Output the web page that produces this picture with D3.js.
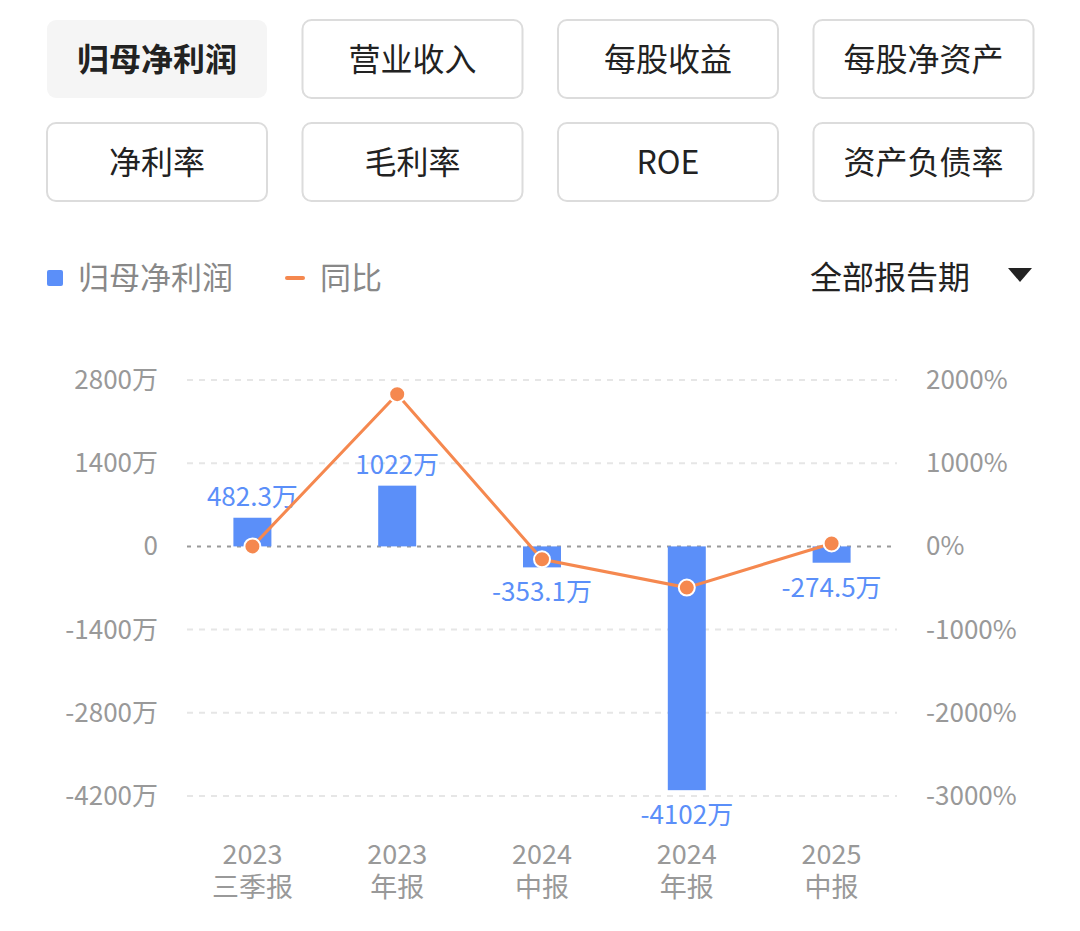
<!DOCTYPE html><html><head><meta charset="utf-8">
<script src="https://cdn.jsdelivr.net/npm/d3@7"></script>
<style>body{margin:0;background:#fff;font-family:"Noto Sans CJK SC","Noto Sans",sans-serif}</style></head><body>
<svg id="c" width="1080" height="931"></svg>
<script>
const tabs=["归母净利润","营业收入","每股收益","每股净资产","净利率","毛利率","ROE","资产负债率"];
const years=["2023","2023","2024","2024","2025"];
const periods=["三季报","年报","中报","年报","中报"];
const profit=[482.3,1022,-353.1,-4102,-274.5];
const profitLabels=["482.3万","1022万","-353.1万","-4102万","-274.5万"];
const yoy=[0,1830,-155,-495,35];
const leftTicks=[2800,1400,0,-1400,-2800,-4200];
const rightTicks=[2000,1000,0,-1000,-2000,-3000];

const svg=d3.select("#c");
const F='"Noto Sans CJK SC",sans-serif';
tabs.forEach((t,i)=>{
  const col=i%4,row=Math.floor(i/4);
  const x=47+col*255.5,y=20+row*103;
  svg.append("rect").attr("x",x).attr("y",y).attr("width",220).attr("height",78).attr("rx",9)
    .attr("fill",i==0?"#f5f5f5":"#fff").attr("stroke",i==0?"none":"#dcdcdc").attr("stroke-width",2);
  svg.append("text").attr("x",x+110).attr("y",y+51).attr("text-anchor","middle").attr("font-size",32)
    .attr("font-family",F).attr("font-weight",i==0?"bold":"normal").attr("fill","#222").text(t);
});
svg.append("rect").attr("x",47).attr("y",270).attr("width",16).attr("height",16).attr("rx",2).attr("fill","#5b8ff9");
svg.append("text").attr("x",78).attr("y",289).attr("font-size",31).attr("font-family",F).attr("fill","#888").text("归母净利润");
svg.append("line").attr("x1",287).attr("x2",303).attr("y1",278).attr("y2",278).attr("stroke","#f5884f").attr("stroke-width",4).attr("stroke-linecap","round");
svg.append("text").attr("x",320).attr("y",289).attr("font-size",31).attr("font-family",F).attr("fill","#888").text("同比");
svg.append("text").attr("x",970).attr("y",289).attr("text-anchor","end").attr("font-size",32).attr("font-family",F).attr("fill","#222").text("全部报告期");
svg.append("path").attr("d","M1008,268 L1032,268 L1020,282 Z").attr("fill","#222");

const yL=d3.scaleLinear().domain([-4200,2800]).range([796,380]);
const yR=d3.scaleLinear().domain([-3000,2000]).range([796,380]);
const x=d3.scaleBand().domain(d3.range(5)).range([180,904]).paddingInner(0);
const cx=i=>x(i)+x.bandwidth()/2;

leftTicks.forEach(t=>{
  svg.append("line").attr("x1",187).attr("x2",897).attr("y1",yL(t)).attr("y2",yL(t))
    .attr("stroke",t==0?"#999":"#e6e6e6").attr("stroke-width",2).attr("stroke-dasharray",t==0?"4,6":"6,6");
  svg.append("text").attr("x",158).attr("y",yL(t)+9).attr("text-anchor","end").attr("font-size",26).attr("font-family",F).attr("fill","#999").text(t==0?"0":t+"万");
});
rightTicks.forEach(t=>{
  svg.append("text").attr("x",926).attr("y",yR(t)+9).attr("font-size",26).attr("font-family",F).attr("fill","#999").text(t+"%");
});
profit.forEach((v,i)=>{
  const w=38;
  svg.append("rect").attr("x",cx(i)-w/2).attr("y",Math.min(yL(v),yL(0))).attr("width",w)
    .attr("height",Math.abs(yL(v)-yL(0))).attr("fill","#5b8ff9");
  svg.append("text").attr("x",cx(i)).attr("y",v>=0?yL(v)-12:yL(v)+34).attr("text-anchor","middle")
    .attr("font-size",26).attr("font-family",F).attr("fill","#5b8ff9").text(profitLabels[i]);
  svg.append("text").attr("x",cx(i)).attr("y",864).attr("text-anchor","middle").attr("font-size",27).attr("font-family",F).attr("fill","#999").text(years[i]);
  svg.append("text").attr("x",cx(i)).attr("y",897).attr("text-anchor","middle").attr("font-size",27).attr("font-family",F).attr("fill","#999").text(periods[i]);
});
svg.append("path").datum(yoy).attr("d",d3.line().x((d,i)=>cx(i)).y(d=>yR(d)))
  .attr("fill","none").attr("stroke","#f5884f").attr("stroke-width",3);
yoy.forEach((d,i)=>svg.append("circle").attr("cx",cx(i)).attr("cy",yR(d)).attr("r",8).attr("fill","#f5884f").attr("stroke","#fff").attr("stroke-width",2));
</script></body></html>
